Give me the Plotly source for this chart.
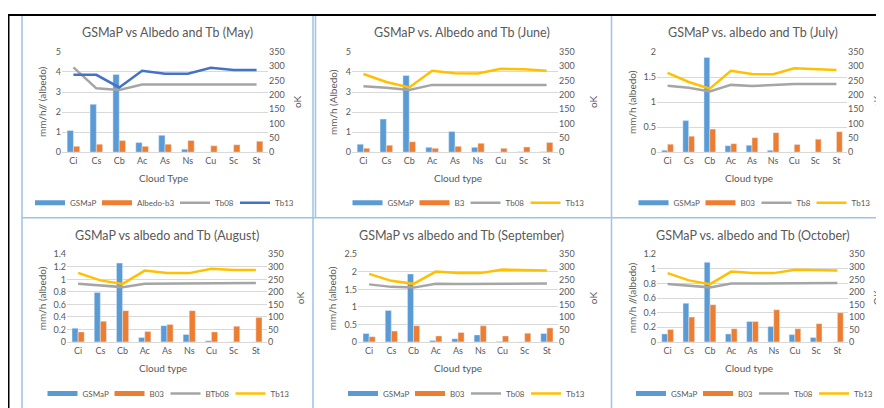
import plotly.graph_objects as go

# Dados
nuvens = ["Ci", "Cs", "Cb", "Ac", "As", "Ns", "Cu", "Sc", "St"]

gsmap_mai = [1.08, 2.39, 3.87, 0.48, 0.84, 0.15, 0, 0, 0]
b03_mai = [0.29, 0.40, 0.58, 0.29, 0.40, 0.58, 0.32, 0.37, 0.55]
tb08_mai = [296, 223, 217, 236, 236, 236, 236, 236, 236]
tb13_mai = [270, 270, 226, 284, 274, 274, 295, 287, 287]

gsmap_jun = [0.40, 1.65, 3.82, 0.24, 1.03, 0.24, 0, 0.02, 0.02]
b03_jun = [0.19, 0.35, 0.52, 0.19, 0.29, 0.44, 0.19, 0.26, 0.48]
tb08_jun = [230, 225, 217, 235, 235, 235, 235, 235, 235]
tb13_jun = [273, 245, 226, 284, 276, 275, 291, 290, 284]

gsmap_jul = [0.04, 0.63, 1.89, 0.13, 0.14, 0.04, 0, 0, 0]
b03_jul = [0.16, 0.32, 0.46, 0.17, 0.29, 0.39, 0.155, 0.26, 0.41]
tb08_jul = [232, 225, 212, 235, 231, 234, 238, 238, 238]
tb13_jul = [277, 245, 222, 284, 273, 272, 293, 290, 287]

gsmap_ago = [0.22, 0.79, 1.26, 0.07, 0.26, 0.12, 0.02, 0, 0]
b03_ago = [0.16, 0.33, 0.50, 0.165, 0.28, 0.50, 0.16, 0.25, 0.39]
tb08_ago = [232, 226, 219, 232, 232, 232, 235, 235, 235]
tb13_ago = [276, 246, 232, 285, 275, 275, 292, 287, 287]

gsmap_set = [0.24, 0.90, 1.94, 0.04, 0.09, 0.20, 0.01, 0, 0.24]
b03_set = [0.15, 0.31, 0.46, 0.17, 0.27, 0.46, 0.17, 0.25, 0.40]
tb08_set = [230, 220, 217, 232, 231, 232, 233, 233, 233]
tb13_set = [272, 244, 232, 281, 275, 275, 289, 288, 285]

gsmap_out = [0.11, 0.53, 1.09, 0.11, 0.28, 0.21, 0.10, 0.06, 0]
b03_out = [0.17, 0.34, 0.51, 0.18, 0.28, 0.44, 0.18, 0.25, 0.40]
tb08_out = [231, 226, 218, 233, 233, 233, 235, 235, 235]
tb13_out = [275, 246, 231, 281, 275, 275, 288, 285, 285]

W, H = 884, 408
OFF = 8  # margem padrao do <body> da pagina
CINZA = "#595959"
FONTE = "Lato"

def px(x):
    return (x - OFF) / W

def py(y):
    return 1 - (y - OFF) / H

# largura aproximada do texto de cada item da legenda (Lato 8 px)
larg_texto = {"GSMaP": 26, "Albedo-b3": 37, "B3": 10, "B03": 15, "Tb08": 19,
              "Tb8": 14, "BTb08": 24, "Tb13": 19}

# Paineis: dados + posicoes (pixels da imagem)
paineis = [
    dict(titulo="GSMaP vs Albedo and Tb (May)", dados=(gsmap_mai, b03_mai, tb08_mai, tb13_mai),
         nomes=("GSMaP", "Albedo-b3", "Tb08", "Tb13"), cor13="#4472C4", ymax=5, dtick=1,
         ytit="mm/h// (albedo)", xtit="Cloud Type", ktit="oK",
         area=(62, 268, 47, 150), cx=167, yx=42, kx=297, lx=162),
    dict(titulo="GSMaP vs. Albedo and Tb (June)", dados=(gsmap_jun, b03_jun, tb08_jun, tb13_jun),
         nomes=("GSMaP", "B3", "Tb08", "Tb13"), cor13="#FFC000", ymax=5, dtick=1,
         ytit="mm/h (Albedo)", xtit="Cloud type", ktit="oK",
         area=(352, 558, 47, 150), cx=462, yx=333, kx=593, lx=466),
    dict(titulo="GSMaP vs. albedo and Tb (July)", dados=(gsmap_jul, b03_jul, tb08_jul, tb13_jul),
         nomes=("GSMaP", "B03", "Tb8", "Tb13"), cor13="#FFC000", ymax=2, dtick=0.5,
         ytit="mm/h (albedo)", xtit="Cloud type", ktit="oK",
         area=(657, 847, 47, 150), cx=753, yx=632, kx=877, lx=752),
    dict(titulo="GSMaP vs albedo and Tb (August)", dados=(gsmap_ago, b03_ago, tb08_ago, tb13_ago),
         nomes=("GSMaP", "B03", "BTb08", "Tb13"), cor13="#FFC000", ymax=1.4, dtick=0.2,
         ytit="mm/h (albedo)", xtit="Cloud type", ktit="oK",
         area=(67, 267, 255, 345), cx=167, yx=42, kx=300, lx=166),
    dict(titulo="GSMaP vs albedo and Tb (September)", dados=(gsmap_set, b03_set, tb08_set, tb13_set),
         nomes=("GSMaP", "B03", "Tb08", "Tb13"), cor13="#FFC000", ymax=2.5, dtick=0.5,
         ytit="mm/h (albedo)", xtit="Cloud type", ktit="oK",
         area=(358, 558, 255, 345), cx=462, yx=332, kx=593, lx=464),
    dict(titulo="GSMaP vs. albedo and Tb (October)", dados=(gsmap_out, b03_out, tb08_out, tb13_out),
         nomes=("GSMaP", "B03", "Tb08", "Tb13"), cor13="#FFC000", ymax=1.2, dtick=0.2,
         ytit="mm/h //(albedo)", xtit="Cloud type", ktit="OK",
         area=(657, 848, 255, 345), cx=753, yx=632, kx=877, lx=752),
]

cores = ["#5B9BD5", "#ED7D31", "#A5A5A5"]

fig = go.Figure()
anotacoes = []
layout = {}
n_leg = 0

for i, p in enumerate(paineis, start=1):
    sx = "" if i == 1 else str(i)
    xa, ya, ya2 = "x" + sx, "y" + sx, "y" + str(i + 6)
    gsmap, b03, tb08, tb13 = p["dados"]
    l, r, t, b = p["area"]
    topo = t < 200

    fig.add_trace(go.Bar(x=nuvens, y=gsmap, marker_color=cores[0], xaxis=xa, yaxis=ya,
                         showlegend=False, name=p["nomes"][0]))
    fig.add_trace(go.Bar(x=nuvens, y=b03, marker_color=cores[1], xaxis=xa, yaxis=ya,
                         showlegend=False, name=p["nomes"][1]))
    fig.add_trace(go.Scatter(x=nuvens, y=tb08, mode="lines", line=dict(color=cores[2], width=2.5),
                             xaxis=xa, yaxis=ya2, showlegend=False, name=p["nomes"][2]))
    fig.add_trace(go.Scatter(x=nuvens, y=tb13, mode="lines", line=dict(color=p["cor13"], width=2.5),
                             xaxis=xa, yaxis=ya2, showlegend=False, name=p["nomes"][3]))

    # legenda: um item por legenda, para controlar o espacamento
    larguras = [40 + larg_texto[n] + 1 for n in p["nomes"]]
    total = sum(larguras) - 1
    inicio = p["lx"] - total / 2
    for nome, cor, lw, larg in zip(p["nomes"], cores + [p["cor13"]], [5, 5, 2.5, 2.5], larguras):
        n_leg += 1
        leg = "legend" if n_leg == 1 else "legend" + str(n_leg)
        fig.add_trace(go.Scatter(x=[None], y=[None], mode="lines", name=nome,
                                 line=dict(color=cor, width=lw), xaxis=xa, yaxis=ya2, legend=leg))
        layout[leg] = dict(orientation="h", x=px(inicio), xanchor="left",
                           y=py(202 if topo else 398), yanchor="middle",
                           font=dict(size=8, color=CINZA, family=FONTE),
                           bgcolor="rgba(0,0,0,0)", borderwidth=0)
        inicio += larg

    layout["xaxis" + sx] = dict(domain=[px(l), px(r)], anchor=ya, type="category",
                                showline=True, linecolor="#D9D9D9", showgrid=False,
                                ticks="", tickfont=dict(size=9, color=CINZA), fixedrange=True)
    layout["yaxis" + sx] = dict(domain=[py(b), py(t)], anchor=xa, range=[0, p["ymax"]],
                                dtick=p["dtick"], showgrid=True, gridcolor="#D9D9D9",
                                zeroline=False, ticks="", tickfont=dict(size=9, color=CINZA))
    layout["yaxis" + str(i + 6)] = dict(overlaying=ya, side="right", anchor=xa, range=[0, 350],
                                        dtick=50, showgrid=False, zeroline=False, ticks="",
                                        tickfont=dict(size=9, color=CINZA))

    meio = (t + b) / 2
    anotacoes += [
        dict(text=p["titulo"], x=px(p["cx"]), y=py(27 if topo else 236),
             font=dict(size=12.5, color=CINZA)),
        dict(text=p["ytit"], x=px(p["yx"]), y=py(meio), textangle=-90,
             font=dict(size=10, color=CINZA)),
        dict(text=p["ktit"], x=px(p["kx"]), y=py(meio), textangle=-90,
             font=dict(size=10, color=CINZA)),
        dict(text=p["xtit"], x=px(p["cx"] - 4), y=py(177 if topo else 372),
             font=dict(size=10, color=CINZA)),
    ]

for a in anotacoes:
    a.update(xref="paper", yref="paper", showarrow=False, xanchor="center", yanchor="middle")

# bordas
azul = "#9DC3E6"
bordas = [
    dict(x0=22, x1=22, y0=10, y1=420, c=azul, w=1.5),
    dict(x0=313, x1=313, y0=10, y1=420, c=azul, w=1.5),
    dict(x0=315.5, x1=315.5, y0=10, y1=217, c=azul, w=1.5),
    dict(x0=611.5, x1=611.5, y0=10, y1=420, c=azul, w=1.5),
    dict(x0=22, x1=900, y0=217.5, y1=217.5, c=azul, w=1.5),
    dict(x0=7, x1=881, y0=9, y1=9, c="black", w=2),
    dict(x0=8.5, x1=8.5, y0=9, y1=420, c="black", w=2),
]
formas = [dict(type="line", xref="paper", yref="paper", x0=px(s["x0"]), x1=px(s["x1"]),
               y0=py(s["y0"]), y1=py(s["y1"]), line=dict(color=s["c"], width=s["w"]))
          for s in bordas]

fig.update_layout(
    width=W, height=H,
    margin=dict(l=0, r=0, t=0, b=0),
    paper_bgcolor="white", plot_bgcolor="white",
    font=dict(family=FONTE, color=CINZA),
    barmode="group", bargap=0.45, bargroupgap=0,
    annotations=anotacoes, shapes=formas,
    **layout
)

fig.write_html("out.html")
